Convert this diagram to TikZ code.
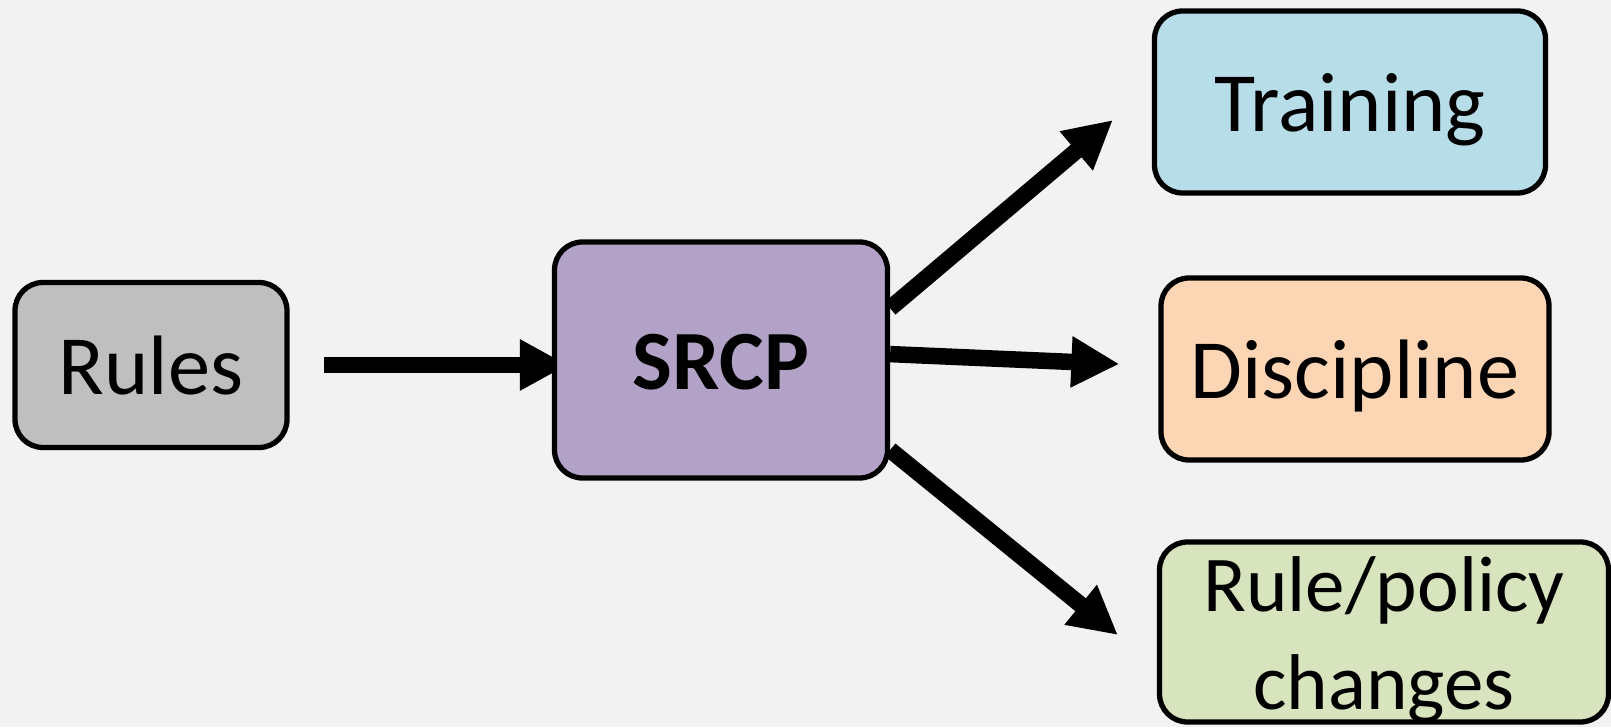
\documentclass[tikz,border=0pt]{standalone}
\usepackage{fontspec}
\setmainfont{Carlito}
\usetikzlibrary{arrows.meta, calc, backgrounds}

\definecolor{pagebg}{HTML}{F2F2F2}
\definecolor{rulesgray}{HTML}{BFBFBF}
\definecolor{srcppurple}{HTML}{B3A2C7}
\definecolor{trainblue}{HTML}{B7DEE8}
\definecolor{discorange}{HTML}{FCD5B5}
\definecolor{policygreen}{HTML}{D7E4BD}

\tikzset{
    box/.style={draw, line width=1.5pt, rounded corners=0.28cm, inner sep=0pt,
        font=\fontsize{24}{29}\selectfont},
    oneline/.style={text height=21.6pt, text depth=4.8pt},
    flow/.style={line width=4.7pt, -{Triangle[length=0.48cm, width=0.48cm]}},
}

\begin{document}
\begin{tikzpicture}
    \useasboundingbox (0,0) rectangle (16.11,7.27);
    \begin{scope}[on background layer]
        \fill[pagebg] (0,0) rectangle (16.11,7.27);
    \end{scope}

    \node[box, oneline, fill=rulesgray, minimum width=2.72cm, minimum height=1.65cm] (rules) at (1.51,3.62) {Rules};
    \node[box, oneline, fill=srcppurple, minimum width=3.33cm, minimum height=2.36cm] (srcp) at (7.21,3.67) {\bfseries SRCP};
    \node[box, oneline, fill=trainblue, minimum width=3.91cm, minimum height=1.82cm] (train) at (13.50,6.25) {Training};
    \node[box, oneline, fill=discorange, minimum width=3.88cm, minimum height=1.82cm] (disc) at (13.55,3.58) {Discipline};
    \node[box, fill=policygreen, minimum width=4.49cm, minimum height=1.80cm, align=center,
        font=\fontsize{22.5}{27.9}\selectfont, text height=1.6cm, text depth=0.05cm] (policy) at (13.84,0.95) {Rule/policy\\changes};

    \begin{scope}[on background layer]
        \draw[flow] ($(rules.east)+(0.34,0)$) -- ($(rules.east -| srcp.west)+(0.16,0)$);
        \draw[flow] (srcp.17) -- ($(train.west)+(-0.39,-0.18)$);
        \draw[flow] (srcp.2) -- ($(disc.west)+(-0.39,0.05)$);
        \draw[flow] (srcp.-28) -- ($(policy.west)+(-0.39,-0.03)$);
    \end{scope}
\end{tikzpicture}
\end{document}
